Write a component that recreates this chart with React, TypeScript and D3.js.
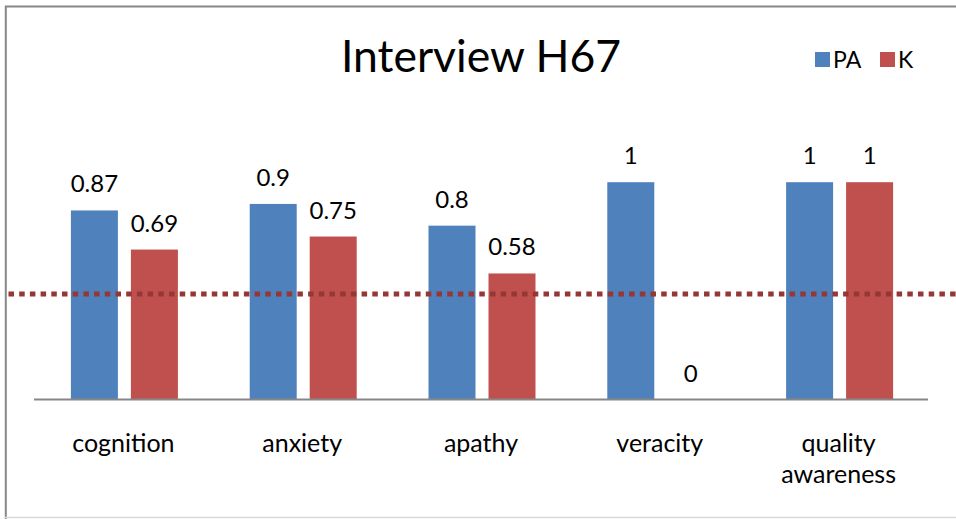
import { useMemo } from 'react';
import * as d3 from 'd3';

const categories = ['cognition', 'anxiety', 'apathy', 'veracity', 'quality awareness'];
const categoryLines = [['cognition'], ['anxiety'], ['apathy'], ['veracity'], ['quality', 'awareness']];
const seriesNames = ['PA', 'K'];
const paValues = [0.87, 0.9, 0.8, 1, 1];
const kValues = [0.69, 0.75, 0.58, 0, 1];
const threshold = 0.485;

const colors: Record<string, string> = { PA: '#4F81BD', K: '#C0504D' };
const FONT = 'Lato, "Open Sans", sans-serif';

const App: React.FC = () => {
    const width = 956;
    const height = 519;

    const x = useMemo(() => d3.scaleBand<string>().domain(categories).range([34, 928]).padding(0), []);
    const inner = useMemo(
        () => d3.scaleBand<string>().domain(seriesNames).range([0, 107]).paddingInner(0.2167).paddingOuter(0),
        []
    );
    const y = useMemo(() => d3.scaleLinear().domain([0, 1]).range([399.5, 182.2]), []);

    const rows = categories.map((c, i) => ({ cat: c, PA: paValues[i], K: kValues[i] }));
    const groupOffset = (x.bandwidth() - 107) / 2 + 1;

    return (
        <div style={{ position: 'absolute', left: 0, top: 0, width, height, background: '#fff' }}>
            <svg width={width} height={height} style={{ display: 'block' }}>
                <rect x={0} y={0} width={width} height={height} fill="#fff" />
                {/* outer frame, open on the right */}
                <path d={`M5.8,${height} V6.5 H${width}`} fill="none" stroke="#878787" strokeWidth={2} />
                <line x1={5} x2={width} y1={517.5} y2={517.5} stroke="#d9d9d9" strokeWidth={1.5} />

                <text x={481} y={72} textAnchor="middle" fontFamily={FONT} fontSize={44.5} fill="#000">
                    Interview H67
                </text>

                {/* legend */}
                <g fontFamily={FONT} fontSize={23} fill="#000">
                    <rect x={815} y={52} width={15} height={15} fill={colors.PA} />
                    <text x={833} y={68}>PA</text>
                    <rect x={880} y={52} width={15} height={15} fill={colors.K} />
                    <text x={898} y={68}>K</text>
                </g>

                {/* bars */}
                {rows.map(r => (
                    <g key={r.cat} transform={`translate(${x(r.cat)! + groupOffset},0)`}>
                        {seriesNames.map(s => {
                            const v = (r as any)[s] as number;
                            const bx = inner(s)!;
                            return (
                                <g key={s}>
                                    {v > 0 && (
                                        <rect
                                            x={bx}
                                            y={y(v)}
                                            width={inner.bandwidth()}
                                            height={y(0) - y(v)}
                                            fill={colors[s]}
                                        />
                                    )}
                                    <text
                                        x={bx + inner.bandwidth() / 2}
                                        y={y(v) - 18}
                                        textAnchor="middle"
                                        fontFamily={FONT}
                                        fontSize={24}
                                        fill="#000"
                                    >
                                        {String(v)}
                                    </text>
                                </g>
                            );
                        })}
                    </g>
                ))}

                {/* axis baseline */}
                <line x1={34} x2={928} y1={y(0)} y2={y(0)} stroke="#878787" strokeWidth={2} />

                {/* category labels */}
                {categories.map((c, i) => (
                    <text
                        key={c}
                        x={x(c)! + x.bandwidth() / 2}
                        y={452}
                        textAnchor="middle"
                        fontFamily={FONT}
                        fontSize={25}
                        fill="#000"
                    >
                        {categoryLines[i].map((ln, j) => (
                            <tspan key={j} x={x(c)! + x.bandwidth() / 2} dy={j === 0 ? 0 : 31}>
                                {ln}
                            </tspan>
                        ))}
                    </text>
                ))}

                {/* threshold line */}
                <line
                    x1={8.5}
                    x2={width}
                    y1={y(threshold)}
                    y2={y(threshold)}
                    stroke="#953735"
                    strokeWidth={5}
                    strokeDasharray="5.5 5.2"
                />
            </svg>
        </div>
    );
};

export default App;
